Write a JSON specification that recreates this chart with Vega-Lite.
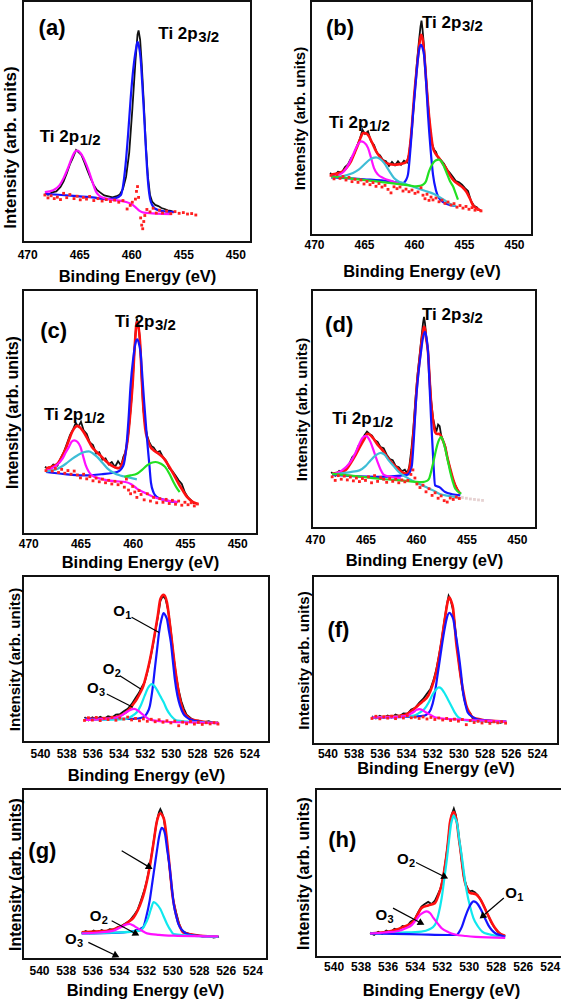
{
"$schema":"https://vega.github.io/schema/vega-lite/v6.json",
"padding":{"left":0,"top":0,"right":0,"bottom":0},
"config":{"font":"Liberation Sans","view":{"stroke":"#111111","strokeWidth":2},
"axis":{"grid":false,"domain":false,"ticks":false,"labelFont":"Liberation Sans","labelFontWeight":"bold","labelFontSize":12,"labelColor":"black","titleFont":"Liberation Sans","titleFontWeight":"bold","titleColor":"black"},
"axisX":{"titleFontSize":16.5,"labelFlush":false},"axisY":{"labels":false}},
"datasets":{
"a":[
{"s":"e","x":468.3,"y":20.2},{"s":"e","x":468.0,"y":19.6},{"s":"e","x":467.6,"y":20.6},{"s":"e","x":467.2,"y":21.0},{"s":"e","x":466.8,"y":22.8},{"s":"e","x":466.5,"y":25.2},{"s":"e","x":466.2,"y":28.5},{"s":"e","x":465.9,"y":32.2},{"s":"e","x":465.6,"y":35.0},{"s":"e","x":465.3,"y":38.2},{"s":"e","x":465.1,"y":37.4},{"s":"e","x":464.8,"y":36.2},{"s":"e","x":464.5,"y":33.0},{"s":"e","x":464.2,"y":29.6},{"s":"e","x":463.9,"y":26.4},{"s":"e","x":463.6,"y":23.6},{"s":"e","x":463.3,"y":21.6},{"s":"e","x":463.0,"y":20.6},{"s":"e","x":462.6,"y":19.3},{"s":"e","x":462.2,"y":18.9},{"s":"e","x":461.8,"y":18.5},{"s":"e","x":461.4,"y":19.0},{"s":"e","x":461.1,"y":19.7},{"s":"e","x":460.8,"y":22.0},{"s":"e","x":460.5,"y":27.0},{"s":"e","x":460.2,"y":37.0},{"s":"e","x":459.9,"y":55.0},{"s":"e","x":459.6,"y":75.0},{"s":"e","x":459.4,"y":86.0},{"s":"e","x":459.3,"y":87.8},{"s":"e","x":459.15,"y":84.0},{"s":"e","x":459.0,"y":74.0},{"s":"e","x":458.8,"y":58.0},{"s":"e","x":458.6,"y":40.0},{"s":"e","x":458.4,"y":27.0},{"s":"e","x":458.2,"y":19.5},{"s":"e","x":458.0,"y":16.8},{"s":"e","x":457.7,"y":15.4},{"s":"e","x":457.4,"y":14.9},{"s":"e","x":457.1,"y":14.1},{"s":"e","x":456.8,"y":13.7},{"s":"e","x":456.5,"y":13.1},{"s":"e","x":456.2,"y":12.9},{"s":"e","x":455.9,"y":12.4},
{"s":"b","x":468.3,"y":20.0},{"s":"b","x":467.0,"y":19.6},{"s":"b","x":465.2,"y":19.0},{"s":"b","x":463.5,"y":18.4},{"s":"b","x":462.5,"y":17.8},{"s":"b","x":461.5,"y":18.2},{"s":"b","x":461.0,"y":19.5},{"s":"b","x":460.8,"y":23.0},{"s":"b","x":460.55,"y":32.0},{"s":"b","x":460.3,"y":45.0},{"s":"b","x":460.05,"y":60.0},{"s":"b","x":459.8,"y":72.0},{"s":"b","x":459.55,"y":80.0},{"s":"b","x":459.4,"y":83.0},{"s":"b","x":459.25,"y":81.0},{"s":"b","x":459.1,"y":76.0},{"s":"b","x":458.95,"y":66.0},{"s":"b","x":458.8,"y":55.0},{"s":"b","x":458.65,"y":43.0},{"s":"b","x":458.5,"y":31.5},{"s":"b","x":458.35,"y":23.0},{"s":"b","x":458.2,"y":18.0},{"s":"b","x":457.95,"y":15.0},{"s":"b","x":457.7,"y":13.8},{"s":"b","x":457.2,"y":13.0},{"s":"b","x":456.5,"y":12.6},{"s":"b","x":455.9,"y":12.4},
{"s":"m","x":468.3,"y":20.7},{"s":"m","x":467.5,"y":21.5},{"s":"m","x":466.9,"y":23.5},{"s":"m","x":466.5,"y":26.5},{"s":"m","x":466.1,"y":30.5},{"s":"m","x":465.7,"y":35.0},{"s":"m","x":465.4,"y":37.5},{"s":"m","x":465.15,"y":37.9},{"s":"m","x":464.9,"y":37.0},{"s":"m","x":464.6,"y":35.0},{"s":"m","x":464.3,"y":32.0},{"s":"m","x":464.0,"y":28.5},{"s":"m","x":463.7,"y":24.5},{"s":"m","x":463.4,"y":21.0},{"s":"m","x":463.1,"y":19.3},{"s":"m","x":462.6,"y":18.2},{"s":"m","x":462.0,"y":17.6},{"s":"m","x":461.2,"y":17.2},{"s":"m","x":460.5,"y":16.6},{"s":"m","x":460.0,"y":15.8},{"s":"m","x":459.6,"y":14.5},{"s":"m","x":459.2,"y":12.9},{"s":"m","x":458.8,"y":12.2},{"s":"m","x":458.0,"y":11.9},{"s":"m","x":457.0,"y":11.7},{"s":"m","x":456.1,"y":11.6},
{"s":"d","x":468.3,"y":19.5},{"s":"d","x":468.0,"y":18.3},{"s":"d","x":467.7,"y":19.2},{"s":"d","x":467.4,"y":18.0},{"s":"d","x":467.1,"y":18.6},{"s":"d","x":466.8,"y":17.6},{"s":"d","x":466.5,"y":20.2},{"s":"d","x":466.2,"y":18.4},{"s":"d","x":465.9,"y":19.7},{"s":"d","x":465.5,"y":18.0},{"s":"d","x":465.2,"y":19.0},{"s":"d","x":464.9,"y":17.5},{"s":"d","x":464.6,"y":18.5},{"s":"d","x":464.3,"y":17.8},{"s":"d","x":464.0,"y":18.9},{"s":"d","x":463.6,"y":17.2},{"s":"d","x":463.2,"y":18.0},{"s":"d","x":462.8,"y":17.0},{"s":"d","x":462.4,"y":17.6},{"s":"d","x":462.0,"y":16.8},{"s":"d","x":461.6,"y":17.4},{"s":"d","x":461.2,"y":16.5},{"s":"d","x":460.8,"y":17.2},{"s":"d","x":460.4,"y":13.7},{"s":"d","x":460.1,"y":15.2},{"s":"d","x":459.9,"y":16.5},{"s":"d","x":459.6,"y":17.8},{"s":"d","x":459.5,"y":21.0},{"s":"d","x":459.4,"y":23.0},{"s":"d","x":459.3,"y":18.5},{"s":"d","x":459.1,"y":10.0},{"s":"d","x":459.0,"y":7.0},{"s":"d","x":458.9,"y":5.5},{"s":"d","x":458.8,"y":8.5},{"s":"d","x":458.7,"y":11.0},{"s":"d","x":458.5,"y":13.5},{"s":"d","x":458.2,"y":12.5},{"s":"d","x":457.9,"y":14.0},{"s":"d","x":457.6,"y":12.0},{"s":"d","x":457.3,"y":13.2},{"s":"d","x":457.0,"y":12.0},{"s":"d","x":456.6,"y":12.8},{"s":"d","x":456.2,"y":11.8},{"s":"d","x":455.8,"y":12.6},{"s":"d","x":455.4,"y":11.9},{"s":"d","x":455.0,"y":12.2},{"s":"d","x":454.6,"y":11.6},{"s":"d","x":454.2,"y":11.8},{"s":"d","x":453.8,"y":11.2}
],
"b":[
{"s":"e","x":468.4,"y":26.5},{"s":"e","x":468.0,"y":25.2},{"s":"e","x":467.6,"y":27.0},{"s":"e","x":467.2,"y":26.8},{"s":"e","x":466.9,"y":29.0},{"s":"e","x":466.6,"y":30.2},{"s":"e","x":466.3,"y":32.8},{"s":"e","x":466.0,"y":34.5},{"s":"e","x":465.7,"y":38.0},{"s":"e","x":465.4,"y":41.2},{"s":"e","x":465.15,"y":45.0},{"s":"e","x":464.9,"y":43.2},{"s":"e","x":464.6,"y":44.3},{"s":"e","x":464.3,"y":40.0},{"s":"e","x":464.0,"y":38.5},{"s":"e","x":463.7,"y":35.0},{"s":"e","x":463.4,"y":34.0},{"s":"e","x":463.1,"y":32.0},{"s":"e","x":462.8,"y":31.5},{"s":"e","x":462.5,"y":29.5},{"s":"e","x":462.2,"y":31.2},{"s":"e","x":461.9,"y":29.8},{"s":"e","x":461.6,"y":31.5},{"s":"e","x":461.3,"y":30.0},{"s":"e","x":461.0,"y":31.8},{"s":"e","x":460.7,"y":31.0},{"s":"e","x":460.5,"y":34.5},{"s":"e","x":460.3,"y":42.0},{"s":"e","x":460.1,"y":52.0},{"s":"e","x":459.9,"y":63.0},{"s":"e","x":459.7,"y":74.0},{"s":"e","x":459.5,"y":83.0},{"s":"e","x":459.35,"y":89.0},{"s":"e","x":459.25,"y":91.6},{"s":"e","x":459.15,"y":88.0},{"s":"e","x":459.0,"y":80.5},{"s":"e","x":458.8,"y":68.0},{"s":"e","x":458.6,"y":56.0},{"s":"e","x":458.4,"y":46.0},{"s":"e","x":458.2,"y":39.0},{"s":"e","x":458.0,"y":36.5},{"s":"e","x":457.8,"y":35.5},{"s":"e","x":457.6,"y":33.0},{"s":"e","x":457.3,"y":32.0},{"s":"e","x":457.0,"y":30.5},{"s":"e","x":456.7,"y":28.0},{"s":"e","x":456.4,"y":26.5},{"s":"e","x":456.1,"y":24.8},{"s":"e","x":455.8,"y":23.0},{"s":"e","x":455.5,"y":22.5},{"s":"e","x":455.2,"y":21.5},{"s":"e","x":454.9,"y":20.0},{"s":"e","x":454.6,"y":18.8},{"s":"e","x":454.3,"y":14.5},{"s":"e","x":454.0,"y":12.5},{"s":"e","x":453.6,"y":11.5},
{"s":"f","x":468.3,"y":25.8},{"s":"f","x":467.7,"y":26.3},{"s":"f","x":467.1,"y":27.2},{"s":"f","x":466.7,"y":29.0},{"s":"f","x":466.3,"y":31.5},{"s":"f","x":465.9,"y":35.5},{"s":"f","x":465.6,"y":38.6},{"s":"f","x":465.3,"y":42.0},{"s":"f","x":465.1,"y":43.6},{"s":"f","x":464.8,"y":43.5},{"s":"f","x":464.5,"y":42.2},{"s":"f","x":464.2,"y":39.5},{"s":"f","x":463.8,"y":35.8},{"s":"f","x":463.3,"y":32.8},{"s":"f","x":462.8,"y":30.8},{"s":"f","x":462.0,"y":30.0},{"s":"f","x":461.4,"y":30.3},{"s":"f","x":460.9,"y":30.8},{"s":"f","x":460.6,"y":32.5},{"s":"f","x":460.4,"y":38.0},{"s":"f","x":460.2,"y":47.0},{"s":"f","x":460.0,"y":58.5},{"s":"f","x":459.75,"y":70.0},{"s":"f","x":459.5,"y":80.0},{"s":"f","x":459.3,"y":85.6},{"s":"f","x":459.15,"y":84.0},{"s":"f","x":459.0,"y":78.5},{"s":"f","x":458.8,"y":67.0},{"s":"f","x":458.6,"y":55.7},{"s":"f","x":458.35,"y":45.0},{"s":"f","x":458.1,"y":37.2},{"s":"f","x":457.8,"y":34.5},{"s":"f","x":457.5,"y":32.9},{"s":"f","x":457.2,"y":31.0},{"s":"f","x":456.8,"y":28.6},{"s":"f","x":456.4,"y":25.5},{"s":"f","x":456.1,"y":23.6},{"s":"f","x":455.5,"y":21.5},{"s":"f","x":455.1,"y":20.2},{"s":"f","x":454.8,"y":18.7},{"s":"f","x":454.4,"y":15.5},{"s":"f","x":454.1,"y":12.7},{"s":"f","x":453.7,"y":11.3},{"s":"f","x":453.3,"y":10.4},
{"s":"b","x":468.3,"y":24.6},{"s":"b","x":465.0,"y":23.8},{"s":"b","x":462.5,"y":23.0},{"s":"b","x":461.1,"y":22.2},{"s":"b","x":460.8,"y":23.5},{"s":"b","x":460.6,"y":25.9},{"s":"b","x":460.35,"y":37.0},{"s":"b","x":460.1,"y":51.4},{"s":"b","x":459.85,"y":64.0},{"s":"b","x":459.6,"y":75.6},{"s":"b","x":459.45,"y":80.0},{"s":"b","x":459.3,"y":81.3},{"s":"b","x":459.15,"y":80.0},{"s":"b","x":459.0,"y":77.1},{"s":"b","x":458.8,"y":66.0},{"s":"b","x":458.6,"y":51.4},{"s":"b","x":458.35,"y":37.0},{"s":"b","x":458.1,"y":25.8},{"s":"b","x":457.8,"y":19.0},{"s":"b","x":457.5,"y":15.8},{"s":"b","x":457.0,"y":13.8},{"s":"b","x":456.4,"y":12.8},{"s":"b","x":455.8,"y":12.3},
{"s":"m","x":468.3,"y":24.6},{"s":"m","x":467.6,"y":25.5},{"s":"m","x":467.0,"y":27.2},{"s":"m","x":466.5,"y":30.5},{"s":"m","x":466.1,"y":34.3},{"s":"m","x":465.7,"y":38.0},{"s":"m","x":465.3,"y":40.0},{"s":"m","x":465.0,"y":39.6},{"s":"m","x":464.6,"y":37.2},{"s":"m","x":464.3,"y":33.0},{"s":"m","x":464.0,"y":28.6},{"s":"m","x":463.6,"y":25.8},{"s":"m","x":463.1,"y":24.4},{"s":"m","x":462.2,"y":23.0},{"s":"m","x":461.1,"y":21.5},
{"s":"k","x":468.3,"y":24.6},{"s":"k","x":466.8,"y":25.5},{"s":"k","x":466.1,"y":26.5},{"s":"k","x":465.5,"y":28.0},{"s":"k","x":465.0,"y":30.0},{"s":"k","x":464.4,"y":32.3},{"s":"k","x":463.8,"y":33.2},{"s":"k","x":463.4,"y":32.5},{"s":"k","x":463.0,"y":30.8},{"s":"k","x":462.5,"y":27.5},{"s":"k","x":462.0,"y":24.4},{"s":"k","x":461.5,"y":22.8},{"s":"k","x":461.1,"y":22.2},{"s":"k","x":460.0,"y":20.5},{"s":"k","x":459.0,"y":19.0},{"s":"k","x":458.0,"y":17.5},{"s":"k","x":457.0,"y":15.0},{"s":"k","x":456.5,"y":13.5},{"s":"k","x":455.8,"y":12.3},
{"s":"g","x":468.3,"y":25.0},{"s":"g","x":466.0,"y":24.0},{"s":"g","x":463.0,"y":22.5},{"s":"g","x":460.5,"y":21.2},{"s":"g","x":459.8,"y":20.8},{"s":"g","x":459.4,"y":21.0},{"s":"g","x":459.1,"y":21.5},{"s":"g","x":458.8,"y":23.0},{"s":"g","x":458.5,"y":27.2},{"s":"g","x":458.2,"y":30.0},{"s":"g","x":457.85,"y":31.8},{"s":"g","x":457.5,"y":32.2},{"s":"g","x":457.2,"y":31.0},{"s":"g","x":456.8,"y":27.2},{"s":"g","x":456.4,"y":23.0},{"s":"g","x":456.1,"y":20.8},{"s":"g","x":455.85,"y":18.0},{"s":"g","x":455.6,"y":15.1},
{"s":"d","x":468.3,"y":25.5},{"s":"d","x":468.0,"y":24.0},{"s":"d","x":467.7,"y":25.8},{"s":"d","x":467.4,"y":24.2},{"s":"d","x":467.1,"y":25.0},{"s":"d","x":466.8,"y":23.5},{"s":"d","x":466.5,"y":24.6},{"s":"d","x":466.2,"y":22.8},{"s":"d","x":465.9,"y":23.8},{"s":"d","x":465.6,"y":22.5},{"s":"d","x":465.3,"y":23.5},{"s":"d","x":465.0,"y":21.8},{"s":"d","x":464.7,"y":22.9},{"s":"d","x":464.4,"y":21.5},{"s":"d","x":464.1,"y":22.4},{"s":"d","x":463.8,"y":20.8},{"s":"d","x":463.5,"y":22.0},{"s":"d","x":463.2,"y":20.5},{"s":"d","x":462.9,"y":21.2},{"s":"d","x":462.6,"y":19.5},{"s":"d","x":462.3,"y":18.0},{"s":"d","x":462.0,"y":20.6},{"s":"d","x":461.7,"y":19.8},{"s":"d","x":461.4,"y":20.5},{"s":"d","x":461.1,"y":18.8},{"s":"d","x":460.8,"y":19.6},{"s":"d","x":460.5,"y":18.5},{"s":"d","x":460.2,"y":19.2},{"s":"d","x":459.9,"y":17.8},{"s":"d","x":459.6,"y":18.4},{"s":"d","x":459.3,"y":20.2},{"s":"d","x":459.1,"y":17.0},{"s":"d","x":458.9,"y":15.5},{"s":"d","x":458.7,"y":17.4},{"s":"d","x":458.5,"y":14.8},{"s":"d","x":458.3,"y":16.2},{"s":"d","x":458.1,"y":15.0},{"s":"d","x":457.8,"y":15.8},{"s":"d","x":457.5,"y":14.2},{"s":"d","x":457.2,"y":14.9},{"s":"d","x":456.9,"y":13.5},{"s":"d","x":456.6,"y":14.1},{"s":"d","x":456.3,"y":12.8},{"s":"d","x":456.0,"y":13.4},{"s":"d","x":455.7,"y":11.9},{"s":"d","x":455.4,"y":12.6},{"s":"d","x":455.1,"y":11.5},{"s":"d","x":454.8,"y":12.2},{"s":"d","x":454.5,"y":11.0},{"s":"d","x":454.2,"y":11.7},{"s":"d","x":453.9,"y":10.6},{"s":"d","x":453.6,"y":10.9},{"s":"d","x":453.3,"y":10.3}
],
"c":[
{"s":"e","x":468.4,"y":27.5},{"s":"e","x":468.0,"y":26.5},{"s":"e","x":467.6,"y":28.5},{"s":"e","x":467.2,"y":28.0},{"s":"e","x":466.9,"y":31.0},{"s":"e","x":466.6,"y":33.5},{"s":"e","x":466.3,"y":37.0},{"s":"e","x":466.0,"y":40.5},{"s":"e","x":465.7,"y":43.0},{"s":"e","x":465.45,"y":45.5},{"s":"e","x":465.2,"y":44.0},{"s":"e","x":464.95,"y":46.0},{"s":"e","x":464.7,"y":42.5},{"s":"e","x":464.4,"y":41.0},{"s":"e","x":464.1,"y":37.5},{"s":"e","x":463.8,"y":36.5},{"s":"e","x":463.5,"y":33.0},{"s":"e","x":463.2,"y":33.5},{"s":"e","x":462.9,"y":30.5},{"s":"e","x":462.6,"y":31.0},{"s":"e","x":462.3,"y":28.5},{"s":"e","x":462.0,"y":29.5},{"s":"e","x":461.7,"y":27.5},{"s":"e","x":461.4,"y":29.8},{"s":"e","x":461.1,"y":28.0},{"s":"e","x":460.9,"y":31.5},{"s":"e","x":460.7,"y":33.5},{"s":"e","x":460.5,"y":38.0},{"s":"e","x":460.3,"y":46.0},{"s":"e","x":460.1,"y":56.0},{"s":"e","x":459.9,"y":70.0},{"s":"e","x":459.75,"y":81.0},{"s":"e","x":459.6,"y":88.2},{"s":"e","x":459.45,"y":86.0},{"s":"e","x":459.3,"y":79.0},{"s":"e","x":459.15,"y":65.0},{"s":"e","x":459.0,"y":52.0},{"s":"e","x":458.8,"y":44.5},{"s":"e","x":458.6,"y":40.0},{"s":"e","x":458.4,"y":37.5},{"s":"e","x":458.2,"y":36.0},{"s":"e","x":458.0,"y":35.5},{"s":"e","x":457.7,"y":33.5},{"s":"e","x":457.4,"y":34.0},{"s":"e","x":457.1,"y":31.5},{"s":"e","x":456.8,"y":30.0},{"s":"e","x":456.5,"y":27.0},{"s":"e","x":456.2,"y":25.8},{"s":"e","x":455.9,"y":24.0},{"s":"e","x":455.6,"y":22.0},{"s":"e","x":455.3,"y":20.5},{"s":"e","x":455.0,"y":17.0},{"s":"e","x":454.7,"y":15.0},{"s":"e","x":454.4,"y":13.8},{"s":"e","x":454.1,"y":12.5},
{"s":"f","x":468.3,"y":26.8},{"s":"f","x":467.8,"y":27.5},{"s":"f","x":467.2,"y":28.8},{"s":"f","x":466.8,"y":31.5},{"s":"f","x":466.4,"y":35.0},{"s":"f","x":466.1,"y":38.5},{"s":"f","x":465.8,"y":41.8},{"s":"f","x":465.5,"y":43.8},{"s":"f","x":465.3,"y":44.3},{"s":"f","x":465.0,"y":43.5},{"s":"f","x":464.7,"y":41.8},{"s":"f","x":464.3,"y":38.8},{"s":"f","x":463.9,"y":35.7},{"s":"f","x":463.5,"y":33.8},{"s":"f","x":463.1,"y":32.2},{"s":"f","x":462.6,"y":30.0},{"s":"f","x":462.1,"y":28.2},{"s":"f","x":461.6,"y":27.2},{"s":"f","x":461.3,"y":27.0},{"s":"f","x":461.0,"y":29.0},{"s":"f","x":460.7,"y":33.0},{"s":"f","x":460.4,"y":41.8},{"s":"f","x":460.2,"y":51.0},{"s":"f","x":460.0,"y":62.0},{"s":"f","x":459.8,"y":77.3},{"s":"f","x":459.6,"y":86.9},{"s":"f","x":459.45,"y":85.0},{"s":"f","x":459.3,"y":79.0},{"s":"f","x":459.1,"y":61.0},{"s":"f","x":458.95,"y":50.0},{"s":"f","x":458.8,"y":43.2},{"s":"f","x":458.55,"y":38.5},{"s":"f","x":458.3,"y":35.7},{"s":"f","x":458.0,"y":34.3},{"s":"f","x":457.5,"y":32.8},{"s":"f","x":457.0,"y":30.9},{"s":"f","x":456.6,"y":28.3},{"s":"f","x":456.2,"y":25.4},{"s":"f","x":455.9,"y":23.0},{"s":"f","x":455.6,"y":20.6},{"s":"f","x":455.2,"y":17.8},{"s":"f","x":454.8,"y":15.2},{"s":"f","x":454.3,"y":13.3},{"s":"f","x":453.8,"y":12.4},
{"s":"b","x":468.3,"y":25.4},{"s":"b","x":466.5,"y":24.5},{"s":"b","x":464.7,"y":24.0},{"s":"b","x":463.0,"y":24.5},{"s":"b","x":461.5,"y":25.4},{"s":"b","x":460.9,"y":28.0},{"s":"b","x":460.6,"y":36.0},{"s":"b","x":460.4,"y":47.0},{"s":"b","x":460.2,"y":61.0},{"s":"b","x":459.95,"y":72.0},{"s":"b","x":459.7,"y":78.7},{"s":"b","x":459.55,"y":79.8},{"s":"b","x":459.4,"y":78.0},{"s":"b","x":459.25,"y":74.6},{"s":"b","x":459.05,"y":63.0},{"s":"b","x":458.9,"y":54.0},{"s":"b","x":458.65,"y":40.0},{"s":"b","x":458.4,"y":28.2},{"s":"b","x":458.25,"y":21.0},{"s":"b","x":458.0,"y":17.0},{"s":"b","x":457.7,"y":15.2},{"s":"b","x":457.0,"y":14.0},{"s":"b","x":456.4,"y":13.4},{"s":"b","x":455.7,"y":13.1},
{"s":"m","x":468.3,"y":26.1},{"s":"m","x":467.5,"y":27.5},{"s":"m","x":466.7,"y":31.0},{"s":"m","x":466.4,"y":33.5},{"s":"m","x":466.1,"y":35.7},{"s":"m","x":465.85,"y":37.8},{"s":"m","x":465.6,"y":38.4},{"s":"m","x":465.3,"y":37.8},{"s":"m","x":465.0,"y":35.7},{"s":"m","x":464.75,"y":32.0},{"s":"m","x":464.5,"y":28.2},{"s":"m","x":464.2,"y":25.5},{"s":"m","x":463.9,"y":24.0},{"s":"m","x":463.2,"y":22.8},{"s":"m","x":462.4,"y":22.0},{"s":"m","x":461.5,"y":21.6},{"s":"m","x":460.7,"y":21.3},{"s":"m","x":460.1,"y":20.3},{"s":"m","x":459.6,"y":18.6},{"s":"m","x":458.8,"y":16.8},{"s":"m","x":458.0,"y":15.2},{"s":"m","x":456.8,"y":13.8},{"s":"m","x":455.7,"y":13.1},
{"s":"k","x":468.3,"y":25.6},{"s":"k","x":467.3,"y":26.5},{"s":"k","x":466.4,"y":28.8},{"s":"k","x":465.8,"y":30.8},{"s":"k","x":465.3,"y":32.2},{"s":"k","x":464.7,"y":33.5},{"s":"k","x":464.2,"y":33.9},{"s":"k","x":463.8,"y":33.0},{"s":"k","x":463.4,"y":31.6},{"s":"k","x":462.9,"y":29.2},{"s":"k","x":462.4,"y":26.8},{"s":"k","x":461.8,"y":25.0},{"s":"k","x":461.2,"y":24.0},{"s":"k","x":460.4,"y":23.2},{"s":"k","x":459.6,"y":22.4},
{"s":"g","x":460.8,"y":23.4},{"s":"g","x":460.2,"y":24.0},{"s":"g","x":459.6,"y":24.7},{"s":"g","x":459.1,"y":26.3},{"s":"g","x":458.6,"y":28.2},{"s":"g","x":458.2,"y":29.2},{"s":"g","x":457.8,"y":29.5},{"s":"g","x":457.3,"y":28.8},{"s":"g","x":456.9,"y":27.5},{"s":"g","x":456.5,"y":24.8},{"s":"g","x":456.1,"y":21.3},{"s":"g","x":455.8,"y":19.0},{"s":"g","x":455.5,"y":17.2},
{"s":"d","x":468.3,"y":26.0},{"s":"d","x":468.0,"y":27.2},{"s":"d","x":467.7,"y":25.8},{"s":"d","x":467.4,"y":26.9},{"s":"d","x":467.1,"y":25.2},{"s":"d","x":466.8,"y":26.5},{"s":"d","x":466.5,"y":24.9},{"s":"d","x":466.2,"y":26.0},{"s":"d","x":465.9,"y":24.5},{"s":"d","x":465.6,"y":25.8},{"s":"d","x":465.3,"y":24.2},{"s":"d","x":465.0,"y":23.0},{"s":"d","x":464.7,"y":24.5},{"s":"d","x":464.4,"y":22.6},{"s":"d","x":464.1,"y":23.5},{"s":"d","x":463.8,"y":21.8},{"s":"d","x":463.5,"y":22.9},{"s":"d","x":463.2,"y":21.4},{"s":"d","x":462.9,"y":22.5},{"s":"d","x":462.6,"y":21.0},{"s":"d","x":462.3,"y":22.0},{"s":"d","x":462.0,"y":20.5},{"s":"d","x":461.7,"y":21.6},{"s":"d","x":461.4,"y":20.2},{"s":"d","x":461.1,"y":21.0},{"s":"d","x":460.8,"y":19.2},{"s":"d","x":460.6,"y":22.5},{"s":"d","x":460.4,"y":18.0},{"s":"d","x":460.2,"y":16.5},{"s":"d","x":460.0,"y":19.5},{"s":"d","x":459.8,"y":17.2},{"s":"d","x":459.6,"y":15.0},{"s":"d","x":459.4,"y":17.8},{"s":"d","x":459.2,"y":16.2},{"s":"d","x":458.9,"y":14.0},{"s":"d","x":458.6,"y":16.5},{"s":"d","x":458.3,"y":13.5},{"s":"d","x":458.0,"y":15.0},{"s":"d","x":457.7,"y":12.8},{"s":"d","x":457.4,"y":14.5},{"s":"d","x":457.1,"y":13.0},{"s":"d","x":456.8,"y":14.2},{"s":"d","x":456.5,"y":12.5},{"s":"d","x":456.2,"y":13.8},{"s":"d","x":455.9,"y":12.2},{"s":"d","x":455.6,"y":13.5},{"s":"d","x":455.3,"y":11.8},{"s":"d","x":455.0,"y":13.0},{"s":"d","x":454.7,"y":12.0},{"s":"d","x":454.4,"y":12.8},{"s":"d","x":454.1,"y":11.5},{"s":"d","x":453.8,"y":12.3}
],
"d":[
{"s":"e","x":468.4,"y":23.5},{"s":"e","x":468.0,"y":22.0},{"s":"e","x":467.6,"y":24.0},{"s":"e","x":467.2,"y":23.5},{"s":"e","x":466.9,"y":25.5},{"s":"e","x":466.6,"y":27.0},{"s":"e","x":466.3,"y":29.8},{"s":"e","x":466.0,"y":31.0},{"s":"e","x":465.7,"y":34.5},{"s":"e","x":465.4,"y":36.0},{"s":"e","x":465.1,"y":39.0},{"s":"e","x":464.85,"y":40.5},{"s":"e","x":464.6,"y":39.5},{"s":"e","x":464.35,"y":38.8},{"s":"e","x":464.1,"y":37.0},{"s":"e","x":463.8,"y":36.2},{"s":"e","x":463.5,"y":34.0},{"s":"e","x":463.2,"y":33.5},{"s":"e","x":462.9,"y":30.8},{"s":"e","x":462.6,"y":29.0},{"s":"e","x":462.3,"y":28.5},{"s":"e","x":462.0,"y":26.0},{"s":"e","x":461.7,"y":25.5},{"s":"e","x":461.4,"y":23.8},{"s":"e","x":461.1,"y":24.5},{"s":"e","x":460.85,"y":23.0},{"s":"e","x":460.65,"y":26.0},{"s":"e","x":460.45,"y":33.0},{"s":"e","x":460.25,"y":42.0},{"s":"e","x":460.05,"y":54.0},{"s":"e","x":459.85,"y":64.0},{"s":"e","x":459.65,"y":72.0},{"s":"e","x":459.45,"y":80.0},{"s":"e","x":459.3,"y":86.0},{"s":"e","x":459.2,"y":88.7},{"s":"e","x":459.1,"y":86.0},{"s":"e","x":458.95,"y":79.0},{"s":"e","x":458.8,"y":74.0},{"s":"e","x":458.65,"y":64.0},{"s":"e","x":458.5,"y":54.0},{"s":"e","x":458.3,"y":46.0},{"s":"e","x":458.1,"y":42.0},{"s":"e","x":457.95,"y":41.0},{"s":"e","x":457.8,"y":43.5},{"s":"e","x":457.65,"y":42.8},{"s":"e","x":457.5,"y":39.0},{"s":"e","x":457.3,"y":36.5},{"s":"e","x":457.1,"y":34.5},{"s":"e","x":456.9,"y":30.0},{"s":"e","x":456.7,"y":26.5},{"s":"e","x":456.5,"y":23.0},{"s":"e","x":456.3,"y":20.0},{"s":"e","x":456.1,"y":18.0},{"s":"e","x":455.85,"y":15.8},{"s":"e","x":455.6,"y":14.5},
{"s":"f","x":468.3,"y":22.8},{"s":"f","x":467.6,"y":23.4},{"s":"f","x":467.0,"y":24.2},{"s":"f","x":466.5,"y":27.0},{"s":"f","x":466.0,"y":30.5},{"s":"f","x":465.5,"y":34.5},{"s":"f","x":465.1,"y":37.5},{"s":"f","x":464.8,"y":39.6},{"s":"f","x":464.5,"y":39.0},{"s":"f","x":464.2,"y":37.5},{"s":"f","x":463.8,"y":35.0},{"s":"f","x":463.3,"y":32.6},{"s":"f","x":462.8,"y":29.5},{"s":"f","x":462.3,"y":27.0},{"s":"f","x":461.8,"y":25.0},{"s":"f","x":461.4,"y":23.5},{"s":"f","x":460.9,"y":22.8},{"s":"f","x":460.65,"y":25.0},{"s":"f","x":460.4,"y":31.9},{"s":"f","x":460.15,"y":45.0},{"s":"f","x":459.9,"y":60.0},{"s":"f","x":459.6,"y":72.0},{"s":"f","x":459.45,"y":78.0},{"s":"f","x":459.3,"y":82.5},{"s":"f","x":459.2,"y":84.5},{"s":"f","x":459.1,"y":83.5},{"s":"f","x":459.0,"y":80.0},{"s":"f","x":458.8,"y":73.9},{"s":"f","x":458.65,"y":63.0},{"s":"f","x":458.5,"y":52.9},{"s":"f","x":458.3,"y":45.0},{"s":"f","x":458.1,"y":40.3},{"s":"f","x":457.9,"y":39.5},{"s":"f","x":457.7,"y":39.6},{"s":"f","x":457.4,"y":37.5},{"s":"f","x":457.1,"y":34.0},{"s":"f","x":456.85,"y":29.0},{"s":"f","x":456.6,"y":24.9},{"s":"f","x":456.35,"y":21.0},{"s":"f","x":456.1,"y":17.9},{"s":"f","x":455.8,"y":15.5},{"s":"f","x":455.6,"y":14.4},
{"s":"b","x":468.3,"y":22.3},{"s":"b","x":464.0,"y":21.5},{"s":"b","x":461.5,"y":22.0},{"s":"b","x":460.9,"y":22.3},{"s":"b","x":460.7,"y":22.8},{"s":"b","x":460.55,"y":24.0},{"s":"b","x":460.4,"y":26.3},{"s":"b","x":460.2,"y":38.0},{"s":"b","x":460.0,"y":52.9},{"s":"b","x":459.75,"y":65.0},{"s":"b","x":459.5,"y":73.9},{"s":"b","x":459.3,"y":80.0},{"s":"b","x":459.1,"y":82.4},{"s":"b","x":458.95,"y":80.0},{"s":"b","x":458.8,"y":73.9},{"s":"b","x":458.65,"y":60.0},{"s":"b","x":458.5,"y":45.9},{"s":"b","x":458.3,"y":30.0},{"s":"b","x":458.1,"y":17.9},{"s":"b","x":457.9,"y":17.5},{"s":"b","x":457.7,"y":17.2},{"s":"b","x":457.1,"y":15.1},{"s":"b","x":456.4,"y":14.2},{"s":"b","x":455.6,"y":13.7},
{"s":"m","x":468.3,"y":22.5},{"s":"m","x":467.4,"y":24.0},{"s":"m","x":466.5,"y":27.7},{"s":"m","x":466.0,"y":31.5},{"s":"m","x":465.6,"y":35.4},{"s":"m","x":465.3,"y":37.8},{"s":"m","x":465.0,"y":38.7},{"s":"m","x":464.75,"y":38.0},{"s":"m","x":464.5,"y":36.1},{"s":"m","x":464.15,"y":32.0},{"s":"m","x":463.8,"y":27.7},{"s":"m","x":463.5,"y":24.5},{"s":"m","x":463.2,"y":22.4},{"s":"m","x":462.5,"y":21.5},{"s":"m","x":461.5,"y":21.0},
{"s":"k","x":468.3,"y":22.5},{"s":"k","x":466.5,"y":23.5},{"s":"k","x":465.6,"y":24.2},{"s":"k","x":465.0,"y":26.0},{"s":"k","x":464.5,"y":28.4},{"s":"k","x":464.0,"y":30.5},{"s":"k","x":463.5,"y":31.6},{"s":"k","x":463.1,"y":30.8},{"s":"k","x":462.7,"y":28.4},{"s":"k","x":462.2,"y":26.0},{"s":"k","x":461.7,"y":23.5},{"s":"k","x":461.0,"y":21.5},{"s":"k","x":460.4,"y":20.0},{"s":"k","x":459.7,"y":18.6},{"s":"k","x":459.0,"y":17.2},{"s":"k","x":458.3,"y":15.8},{"s":"k","x":457.7,"y":14.4},{"s":"k","x":456.6,"y":13.4},{"s":"k","x":455.6,"y":12.6},
{"s":"g","x":468.3,"y":22.8},{"s":"g","x":466.0,"y":21.8},{"s":"g","x":463.7,"y":20.7},{"s":"g","x":461.5,"y":20.0},{"s":"g","x":459.4,"y":19.3},{"s":"g","x":458.9,"y":19.8},{"s":"g","x":458.7,"y":20.7},{"s":"g","x":458.45,"y":24.5},{"s":"g","x":458.2,"y":29.1},{"s":"g","x":458.0,"y":33.0},{"s":"g","x":457.8,"y":36.1},{"s":"g","x":457.5,"y":38.2},{"s":"g","x":457.3,"y":36.5},{"s":"g","x":457.1,"y":33.3},{"s":"g","x":456.85,"y":28.5},{"s":"g","x":456.6,"y":23.5},{"s":"g","x":456.35,"y":19.5},{"s":"g","x":456.1,"y":16.5},{"s":"g","x":455.5,"y":14.4},
{"s":"d","x":468.3,"y":21.5},{"s":"d","x":468.0,"y":20.0},{"s":"d","x":467.7,"y":22.0},{"s":"d","x":467.4,"y":20.5},{"s":"d","x":467.1,"y":21.8},{"s":"d","x":466.8,"y":20.2},{"s":"d","x":466.5,"y":21.4},{"s":"d","x":466.2,"y":19.8},{"s":"d","x":465.9,"y":21.0},{"s":"d","x":465.6,"y":19.5},{"s":"d","x":465.3,"y":20.8},{"s":"d","x":465.0,"y":20.0},{"s":"d","x":464.7,"y":21.5},{"s":"d","x":464.4,"y":19.0},{"s":"d","x":464.1,"y":22.0},{"s":"d","x":463.8,"y":19.6},{"s":"d","x":463.5,"y":21.2},{"s":"d","x":463.2,"y":20.5},{"s":"d","x":462.9,"y":19.2},{"s":"d","x":462.6,"y":20.8},{"s":"d","x":462.3,"y":19.6},{"s":"d","x":462.0,"y":20.5},{"s":"d","x":461.7,"y":19.0},{"s":"d","x":461.4,"y":20.2},{"s":"d","x":461.1,"y":19.4},{"s":"d","x":460.8,"y":20.0},{"s":"d","x":460.5,"y":22.5},{"s":"d","x":460.3,"y":24.4},{"s":"d","x":460.1,"y":21.0},{"s":"d","x":459.9,"y":18.5},{"s":"d","x":459.6,"y":17.0},{"s":"d","x":459.3,"y":18.0},{"s":"d","x":459.0,"y":15.2},{"s":"d","x":458.7,"y":16.5},{"s":"d","x":458.4,"y":13.7},{"s":"d","x":458.1,"y":14.8},{"s":"d","x":457.8,"y":12.5},{"s":"d","x":457.5,"y":13.5},{"s":"d","x":457.2,"y":11.5},{"s":"d","x":456.9,"y":10.9},{"s":"d","x":456.6,"y":12.6},{"s":"d","x":456.3,"y":12.0},{"s":"d","x":456.0,"y":13.0},{"s":"d","x":455.7,"y":12.4},
{"s":"h","x":455.4,"y":12.8},{"s":"h","x":455.0,"y":12.5},{"s":"h","x":454.6,"y":12.2},{"s":"h","x":454.2,"y":12.0},{"s":"h","x":453.8,"y":11.8},{"s":"h","x":453.4,"y":11.6}
],
"e":[
{"s":"e","x":536.6,"y":15.0},{"s":"e","x":536.3,"y":13.0},{"s":"e","x":536.0,"y":14.8},{"s":"e","x":535.7,"y":13.5},{"s":"e","x":535.4,"y":15.2},{"s":"e","x":535.1,"y":14.0},{"s":"e","x":534.8,"y":15.5},{"s":"e","x":534.5,"y":14.8},{"s":"e","x":534.2,"y":16.5},{"s":"e","x":533.9,"y":16.8},{"s":"e","x":533.6,"y":18.5},{"s":"e","x":533.3,"y":20.0},{"s":"e","x":533.0,"y":22.8},{"s":"e","x":532.7,"y":26.5},{"s":"e","x":532.45,"y":29.5},{"s":"e","x":532.2,"y":33.5},{"s":"e","x":532.0,"y":36.0},{"s":"e","x":531.8,"y":42.0},{"s":"e","x":531.6,"y":49.0},{"s":"e","x":531.4,"y":57.0},{"s":"e","x":531.2,"y":66.0},{"s":"e","x":531.0,"y":75.0},{"s":"e","x":530.8,"y":85.0},{"s":"e","x":530.6,"y":88.0},{"s":"e","x":530.4,"y":86.0},{"s":"e","x":530.2,"y":79.0},{"s":"e","x":530.0,"y":67.0},{"s":"e","x":529.8,"y":52.0},{"s":"e","x":529.6,"y":40.0},{"s":"e","x":529.4,"y":31.0},{"s":"e","x":529.2,"y":24.5},{"s":"e","x":529.0,"y":20.0},{"s":"e","x":528.8,"y":16.5},{"s":"e","x":528.5,"y":14.5},{"s":"e","x":528.2,"y":13.0},{"s":"e","x":527.9,"y":12.8},{"s":"e","x":527.5,"y":11.8},{"s":"e","x":527.1,"y":12.6},{"s":"e","x":526.7,"y":11.2},{"s":"e","x":526.4,"y":11.8},
{"s":"f","x":536.55,"y":13.9},{"s":"f","x":535.5,"y":14.2},{"s":"f","x":534.6,"y":14.5},{"s":"f","x":533.9,"y":15.9},{"s":"f","x":533.5,"y":17.5},{"s":"f","x":533.2,"y":19.5},{"s":"f","x":532.9,"y":22.5},{"s":"f","x":532.6,"y":25.9},{"s":"f","x":532.35,"y":29.5},{"s":"f","x":532.1,"y":33.9},{"s":"f","x":531.9,"y":39.5},{"s":"f","x":531.7,"y":45.9},{"s":"f","x":531.5,"y":53.5},{"s":"f","x":531.3,"y":62.0},{"s":"f","x":531.15,"y":69.0},{"s":"f","x":531.0,"y":76.1},{"s":"f","x":530.8,"y":86.1},{"s":"f","x":530.55,"y":88.6},{"s":"f","x":530.3,"y":84.1},{"s":"f","x":530.15,"y":76.0},{"s":"f","x":530.0,"y":66.0},{"s":"f","x":529.85,"y":56.0},{"s":"f","x":529.7,"y":45.9},{"s":"f","x":529.55,"y":37.5},{"s":"f","x":529.4,"y":29.9},{"s":"f","x":529.2,"y":22.5},{"s":"f","x":529.0,"y":17.9},{"s":"f","x":528.5,"y":13.9},{"s":"f","x":527.5,"y":12.2},{"s":"f","x":526.35,"y":11.4},
{"s":"b","x":536.55,"y":13.9},{"s":"b","x":532.9,"y":13.9},{"s":"b","x":532.1,"y":14.9},{"s":"b","x":531.85,"y":17.0},{"s":"b","x":531.6,"y":21.9},{"s":"b","x":531.4,"y":32.0},{"s":"b","x":531.2,"y":45.9},{"s":"b","x":531.05,"y":56.0},{"s":"b","x":530.9,"y":66.0},{"s":"b","x":530.7,"y":74.5},{"s":"b","x":530.55,"y":77.7},{"s":"b","x":530.4,"y":76.0},{"s":"b","x":530.3,"y":74.1},{"s":"b","x":530.15,"y":67.0},{"s":"b","x":530.0,"y":60.0},{"s":"b","x":529.85,"y":49.0},{"s":"b","x":529.7,"y":38.0},{"s":"b","x":529.5,"y":28.0},{"s":"b","x":529.3,"y":21.9},{"s":"b","x":529.05,"y":17.0},{"s":"b","x":528.8,"y":14.9},{"s":"b","x":528.3,"y":13.0},{"s":"b","x":527.75,"y":12.2},{"s":"b","x":526.35,"y":11.4},
{"s":"c","x":536.55,"y":13.3},{"s":"c","x":534.5,"y":13.5},{"s":"c","x":533.4,"y":13.9},{"s":"c","x":533.0,"y":15.5},{"s":"c","x":532.6,"y":17.9},{"s":"c","x":532.3,"y":22.0},{"s":"c","x":532.0,"y":27.9},{"s":"c","x":531.75,"y":32.5},{"s":"c","x":531.45,"y":34.9},{"s":"c","x":531.1,"y":31.9},{"s":"c","x":530.8,"y":27.5},{"s":"c","x":530.55,"y":23.9},{"s":"c","x":530.3,"y":19.5},{"s":"c","x":530.0,"y":15.9},{"s":"c","x":529.5,"y":12.9},{"s":"c","x":528.0,"y":12.0},{"s":"c","x":526.35,"y":11.4},
{"s":"m","x":536.55,"y":13.3},{"s":"m","x":535.2,"y":13.8},{"s":"m","x":534.1,"y":14.9},{"s":"m","x":533.7,"y":16.3},{"s":"m","x":533.4,"y":17.9},{"s":"m","x":533.1,"y":19.3},{"s":"m","x":532.8,"y":19.9},{"s":"m","x":532.5,"y":18.8},{"s":"m","x":532.2,"y":16.9},{"s":"m","x":531.9,"y":15.0},{"s":"m","x":531.6,"y":13.5},{"s":"m","x":530.3,"y":12.2},{"s":"m","x":528.5,"y":11.8},{"s":"m","x":526.35,"y":11.4},
{"s":"d","x":536.6,"y":13.0},{"s":"d","x":536.3,"y":14.6},{"s":"d","x":536.0,"y":13.2},{"s":"d","x":535.7,"y":14.8},{"s":"d","x":535.4,"y":12.9},{"s":"d","x":535.1,"y":14.3},{"s":"d","x":534.8,"y":13.5},{"s":"d","x":534.5,"y":14.9},{"s":"d","x":534.2,"y":13.1},{"s":"d","x":533.9,"y":14.4},{"s":"d","x":533.6,"y":13.8},{"s":"d","x":533.3,"y":15.0},{"s":"d","x":533.0,"y":13.3},{"s":"d","x":532.7,"y":14.2},{"s":"d","x":532.4,"y":12.8},{"s":"d","x":532.1,"y":13.9},{"s":"d","x":531.8,"y":12.5},{"s":"d","x":531.5,"y":13.7},{"s":"d","x":531.2,"y":12.2},{"s":"d","x":530.9,"y":13.4},{"s":"d","x":530.6,"y":11.9},{"s":"d","x":530.3,"y":12.8},{"s":"d","x":530.0,"y":11.5},{"s":"d","x":529.7,"y":12.6},{"s":"d","x":529.4,"y":9.8},{"s":"d","x":529.1,"y":12.0},{"s":"d","x":528.8,"y":11.0},{"s":"d","x":528.5,"y":12.4},{"s":"d","x":528.2,"y":10.8},{"s":"d","x":527.9,"y":11.8},{"s":"d","x":527.6,"y":10.6},{"s":"d","x":527.3,"y":11.6},{"s":"d","x":527.0,"y":10.9},{"s":"d","x":526.7,"y":11.7},{"s":"d","x":526.4,"y":10.8}
],
"f":[
{"s":"e","x":536.6,"y":16.5},{"s":"e","x":536.3,"y":15.2},{"s":"e","x":536.0,"y":16.8},{"s":"e","x":535.7,"y":15.5},{"s":"e","x":535.4,"y":17.0},{"s":"e","x":535.1,"y":15.8},{"s":"e","x":534.8,"y":17.5},{"s":"e","x":534.5,"y":16.5},{"s":"e","x":534.2,"y":18.2},{"s":"e","x":533.9,"y":18.0},{"s":"e","x":533.6,"y":20.5},{"s":"e","x":533.3,"y":21.5},{"s":"e","x":533.0,"y":24.5},{"s":"e","x":532.7,"y":26.8},{"s":"e","x":532.4,"y":30.0},{"s":"e","x":532.15,"y":32.5},{"s":"e","x":531.9,"y":38.0},{"s":"e","x":531.7,"y":44.0},{"s":"e","x":531.5,"y":52.0},{"s":"e","x":531.3,"y":61.0},{"s":"e","x":531.1,"y":72.0},{"s":"e","x":530.9,"y":82.0},{"s":"e","x":530.75,"y":88.3},{"s":"e","x":530.6,"y":86.0},{"s":"e","x":530.45,"y":81.0},{"s":"e","x":530.3,"y":73.0},{"s":"e","x":530.1,"y":58.0},{"s":"e","x":529.9,"y":44.0},{"s":"e","x":529.7,"y":33.0},{"s":"e","x":529.5,"y":25.0},{"s":"e","x":529.3,"y":20.0},{"s":"e","x":529.1,"y":18.5},{"s":"e","x":528.9,"y":15.0},{"s":"e","x":528.6,"y":14.8},{"s":"e","x":528.3,"y":13.5},{"s":"e","x":528.0,"y":14.2},{"s":"e","x":527.6,"y":12.8},{"s":"e","x":527.2,"y":13.6},{"s":"e","x":526.8,"y":12.6},{"s":"e","x":526.4,"y":13.4},
{"s":"f","x":536.55,"y":15.9},{"s":"f","x":535.3,"y":16.4},{"s":"f","x":534.1,"y":17.3},{"s":"f","x":533.6,"y":19.5},{"s":"f","x":533.1,"y":22.8},{"s":"f","x":532.7,"y":25.5},{"s":"f","x":532.3,"y":28.8},{"s":"f","x":532.0,"y":34.5},{"s":"f","x":531.7,"y":42.7},{"s":"f","x":531.5,"y":51.0},{"s":"f","x":531.3,"y":60.5},{"s":"f","x":531.15,"y":68.5},{"s":"f","x":531.0,"y":76.4},{"s":"f","x":530.8,"y":85.3},{"s":"f","x":530.7,"y":87.3},{"s":"f","x":530.55,"y":85.0},{"s":"f","x":530.4,"y":80.4},{"s":"f","x":530.3,"y":72.0},{"s":"f","x":530.2,"y":62.5},{"s":"f","x":530.0,"y":50.0},{"s":"f","x":529.8,"y":38.7},{"s":"f","x":529.6,"y":30.0},{"s":"f","x":529.4,"y":22.8},{"s":"f","x":529.15,"y":18.5},{"s":"f","x":528.9,"y":15.9},{"s":"f","x":528.3,"y":14.6},{"s":"f","x":527.75,"y":13.9},{"s":"f","x":526.35,"y":13.3},
{"s":"b","x":536.55,"y":15.9},{"s":"b","x":534.0,"y":16.2},{"s":"b","x":532.6,"y":16.9},{"s":"b","x":532.35,"y":18.0},{"s":"b","x":532.1,"y":20.8},{"s":"b","x":531.85,"y":28.0},{"s":"b","x":531.6,"y":40.7},{"s":"b","x":531.35,"y":54.0},{"s":"b","x":531.1,"y":66.5},{"s":"b","x":530.9,"y":74.5},{"s":"b","x":530.7,"y":78.0},{"s":"b","x":530.55,"y":77.0},{"s":"b","x":530.4,"y":74.4},{"s":"b","x":530.2,"y":65.0},{"s":"b","x":530.0,"y":54.6},{"s":"b","x":529.8,"y":42.0},{"s":"b","x":529.65,"y":30.8},{"s":"b","x":529.45,"y":23.0},{"s":"b","x":529.3,"y":18.9},{"s":"b","x":528.9,"y":16.0},{"s":"b","x":528.5,"y":14.5},{"s":"b","x":527.5,"y":13.8},{"s":"b","x":526.35,"y":13.3},
{"s":"c","x":536.55,"y":15.9},{"s":"c","x":534.5,"y":16.3},{"s":"c","x":533.4,"y":16.9},{"s":"c","x":533.0,"y":18.5},{"s":"c","x":532.6,"y":20.8},{"s":"c","x":532.25,"y":25.0},{"s":"c","x":531.95,"y":29.8},{"s":"c","x":531.7,"y":32.5},{"s":"c","x":531.5,"y":33.7},{"s":"c","x":531.3,"y":33.0},{"s":"c","x":531.1,"y":30.8},{"s":"c","x":530.8,"y":26.5},{"s":"c","x":530.55,"y":22.8},{"s":"c","x":530.3,"y":19.0},{"s":"c","x":530.0,"y":15.9},{"s":"c","x":529.3,"y":13.9},{"s":"c","x":526.35,"y":13.3},
{"s":"m","x":536.55,"y":15.9},{"s":"m","x":534.5,"y":16.2},{"s":"m","x":533.9,"y":16.9},{"s":"m","x":533.6,"y":18.2},{"s":"m","x":533.4,"y":19.2},{"s":"m","x":533.2,"y":20.3},{"s":"m","x":533.0,"y":20.8},{"s":"m","x":532.75,"y":20.2},{"s":"m","x":532.5,"y":18.9},{"s":"m","x":532.1,"y":17.2},{"s":"m","x":531.8,"y":15.9},{"s":"m","x":531.0,"y":15.0},{"s":"m","x":529.8,"y":14.5},{"s":"m","x":528.0,"y":13.9},{"s":"m","x":526.35,"y":13.3},
{"s":"d","x":536.6,"y":15.2},{"s":"d","x":536.3,"y":16.5},{"s":"d","x":536.0,"y":15.0},{"s":"d","x":535.7,"y":16.2},{"s":"d","x":535.4,"y":15.4},{"s":"d","x":535.1,"y":16.6},{"s":"d","x":534.8,"y":15.1},{"s":"d","x":534.5,"y":16.3},{"s":"d","x":534.2,"y":15.5},{"s":"d","x":533.9,"y":16.8},{"s":"d","x":533.6,"y":15.6},{"s":"d","x":533.3,"y":16.0},{"s":"d","x":533.0,"y":15.2},{"s":"d","x":532.7,"y":16.1},{"s":"d","x":532.4,"y":14.9},{"s":"d","x":532.1,"y":15.8},{"s":"d","x":531.8,"y":14.6},{"s":"d","x":531.5,"y":15.5},{"s":"d","x":531.2,"y":14.3},{"s":"d","x":530.9,"y":15.2},{"s":"d","x":530.6,"y":14.0},{"s":"d","x":530.3,"y":14.8},{"s":"d","x":530.0,"y":13.6},{"s":"d","x":529.7,"y":14.6},{"s":"d","x":529.4,"y":11.5},{"s":"d","x":529.1,"y":13.9},{"s":"d","x":528.8,"y":12.8},{"s":"d","x":528.5,"y":13.5},{"s":"d","x":528.2,"y":12.5},{"s":"d","x":527.9,"y":13.4},{"s":"d","x":527.6,"y":12.3},{"s":"d","x":527.3,"y":13.2},{"s":"d","x":527.0,"y":12.6},{"s":"d","x":526.7,"y":13.3},{"s":"d","x":526.4,"y":12.4}
],
"g":[
{"s":"e","x":536.8,"y":15.0},{"s":"e","x":536.5,"y":16.5},{"s":"e","x":536.2,"y":15.2},{"s":"e","x":535.9,"y":16.8},{"s":"e","x":535.6,"y":15.6},{"s":"e","x":535.3,"y":17.0},{"s":"e","x":535.0,"y":16.0},{"s":"e","x":534.7,"y":17.5},{"s":"e","x":534.4,"y":17.2},{"s":"e","x":534.1,"y":18.8},{"s":"e","x":533.8,"y":19.5},{"s":"e","x":533.5,"y":21.0},{"s":"e","x":533.2,"y":22.5},{"s":"e","x":532.9,"y":25.5},{"s":"e","x":532.6,"y":29.0},{"s":"e","x":532.35,"y":34.5},{"s":"e","x":532.1,"y":40.5},{"s":"e","x":531.9,"y":46.5},{"s":"e","x":531.7,"y":54.5},{"s":"e","x":531.5,"y":64.0},{"s":"e","x":531.3,"y":74.5},{"s":"e","x":531.15,"y":81.5},{"s":"e","x":531.0,"y":86.5},{"s":"e","x":530.9,"y":88.2},{"s":"e","x":530.8,"y":86.5},{"s":"e","x":530.65,"y":83.0},{"s":"e","x":530.5,"y":75.0},{"s":"e","x":530.35,"y":64.0},{"s":"e","x":530.2,"y":53.0},{"s":"e","x":530.05,"y":41.0},{"s":"e","x":529.9,"y":33.5},{"s":"e","x":529.7,"y":27.0},{"s":"e","x":529.5,"y":21.0},{"s":"e","x":529.3,"y":17.0},{"s":"e","x":529.1,"y":15.8},{"s":"e","x":528.8,"y":15.0},{"s":"e","x":528.5,"y":14.2},{"s":"e","x":528.1,"y":13.8},{"s":"e","x":527.7,"y":13.2},{"s":"e","x":527.3,"y":13.6},{"s":"e","x":526.9,"y":12.6},{"s":"e","x":526.5,"y":13.2},
{"s":"f","x":536.8,"y":15.7},{"s":"f","x":535.8,"y":16.1},{"s":"f","x":534.7,"y":16.7},{"s":"f","x":534.2,"y":18.0},{"s":"f","x":533.7,"y":19.6},{"s":"f","x":533.3,"y":21.8},{"s":"f","x":532.9,"y":24.5},{"s":"f","x":532.6,"y":28.5},{"s":"f","x":532.3,"y":34.3},{"s":"f","x":532.1,"y":39.5},{"s":"f","x":531.9,"y":46.1},{"s":"f","x":531.7,"y":54.0},{"s":"f","x":531.5,"y":63.7},{"s":"f","x":531.35,"y":71.5},{"s":"f","x":531.2,"y":79.4},{"s":"f","x":531.05,"y":84.0},{"s":"f","x":530.9,"y":85.7},{"s":"f","x":530.75,"y":84.5},{"s":"f","x":530.6,"y":81.4},{"s":"f","x":530.45,"y":73.0},{"s":"f","x":530.3,"y":61.8},{"s":"f","x":530.15,"y":50.0},{"s":"f","x":530.0,"y":38.2},{"s":"f","x":529.8,"y":29.0},{"s":"f","x":529.6,"y":22.5},{"s":"f","x":529.4,"y":18.5},{"s":"f","x":529.2,"y":15.7},{"s":"f","x":528.6,"y":14.5},{"s":"f","x":527.9,"y":13.7},{"s":"f","x":526.55,"y":13.1},
{"s":"b","x":536.8,"y":15.0},{"s":"b","x":534.0,"y":15.5},{"s":"b","x":532.9,"y":16.5},{"s":"b","x":532.2,"y":18.6},{"s":"b","x":531.95,"y":25.0},{"s":"b","x":531.7,"y":34.3},{"s":"b","x":531.5,"y":45.0},{"s":"b","x":531.3,"y":55.9},{"s":"b","x":531.15,"y":64.0},{"s":"b","x":531.0,"y":71.6},{"s":"b","x":530.8,"y":77.1},{"s":"b","x":530.65,"y":76.0},{"s":"b","x":530.55,"y":73.5},{"s":"b","x":530.4,"y":65.0},{"s":"b","x":530.2,"y":53.9},{"s":"b","x":530.05,"y":43.0},{"s":"b","x":529.9,"y":32.4},{"s":"b","x":529.7,"y":25.0},{"s":"b","x":529.55,"y":20.6},{"s":"b","x":529.2,"y":16.5},{"s":"b","x":528.9,"y":14.7},{"s":"b","x":528.0,"y":13.6},{"s":"b","x":526.55,"y":13.1},
{"s":"c","x":536.8,"y":15.0},{"s":"c","x":534.0,"y":15.6},{"s":"c","x":532.4,"y":16.7},{"s":"c","x":532.1,"y":19.5},{"s":"c","x":531.8,"y":24.5},{"s":"c","x":531.6,"y":29.5},{"s":"c","x":531.4,"y":33.5},{"s":"c","x":531.2,"y":32.5},{"s":"c","x":530.9,"y":29.4},{"s":"c","x":530.65,"y":25.0},{"s":"c","x":530.4,"y":20.6},{"s":"c","x":530.1,"y":16.5},{"s":"c","x":529.9,"y":14.7},{"s":"c","x":528.0,"y":13.5},{"s":"c","x":526.55,"y":13.1},
{"s":"m","x":536.8,"y":15.0},{"s":"m","x":535.5,"y":15.6},{"s":"m","x":534.4,"y":16.7},{"s":"m","x":533.8,"y":19.0},{"s":"m","x":533.5,"y":20.2},{"s":"m","x":533.2,"y":20.6},{"s":"m","x":532.95,"y":19.8},{"s":"m","x":532.7,"y":18.6},{"s":"m","x":532.3,"y":16.8},{"s":"m","x":531.9,"y":15.1},{"s":"m","x":531.0,"y":14.2},{"s":"m","x":529.9,"y":13.7},{"s":"m","x":528.0,"y":13.4},{"s":"m","x":526.55,"y":13.3}
],
"h":[
{"s":"e","x":537.3,"y":14.5},{"s":"e","x":537.0,"y":13.2},{"s":"e","x":536.7,"y":15.0},{"s":"e","x":536.4,"y":13.8},{"s":"e","x":536.1,"y":15.8},{"s":"e","x":535.8,"y":14.5},{"s":"e","x":535.5,"y":16.8},{"s":"e","x":535.2,"y":16.0},{"s":"e","x":534.9,"y":18.5},{"s":"e","x":534.6,"y":18.0},{"s":"e","x":534.3,"y":21.0},{"s":"e","x":534.0,"y":22.5},{"s":"e","x":533.75,"y":26.5},{"s":"e","x":533.5,"y":30.0},{"s":"e","x":533.25,"y":31.5},{"s":"e","x":533.0,"y":32.8},{"s":"e","x":532.75,"y":31.5},{"s":"e","x":532.5,"y":33.5},{"s":"e","x":532.3,"y":37.0},{"s":"e","x":532.1,"y":40.5},{"s":"e","x":531.9,"y":47.0},{"s":"e","x":531.7,"y":58.0},{"s":"e","x":531.55,"y":67.0},{"s":"e","x":531.4,"y":78.0},{"s":"e","x":531.25,"y":85.0},{"s":"e","x":531.1,"y":88.4},{"s":"e","x":530.95,"y":84.5},{"s":"e","x":530.8,"y":76.0},{"s":"e","x":530.65,"y":66.0},{"s":"e","x":530.5,"y":56.0},{"s":"e","x":530.35,"y":47.0},{"s":"e","x":530.15,"y":42.0},{"s":"e","x":529.95,"y":39.0},{"s":"e","x":529.75,"y":39.5},{"s":"e","x":529.55,"y":38.5},{"s":"e","x":529.35,"y":37.0},{"s":"e","x":529.1,"y":34.0},{"s":"e","x":528.85,"y":30.0},{"s":"e","x":528.6,"y":25.5},{"s":"e","x":528.35,"y":21.0},{"s":"e","x":528.1,"y":17.5},{"s":"e","x":527.85,"y":15.0},{"s":"e","x":527.6,"y":13.5},{"s":"e","x":527.3,"y":12.5},
{"s":"f","x":537.3,"y":14.0},{"s":"f","x":536.6,"y":14.4},{"s":"f","x":535.9,"y":15.1},{"s":"f","x":535.4,"y":16.2},{"s":"f","x":534.95,"y":17.5},{"s":"f","x":534.5,"y":19.0},{"s":"f","x":534.1,"y":21.1},{"s":"f","x":533.8,"y":25.0},{"s":"f","x":533.5,"y":29.1},{"s":"f","x":533.0,"y":30.7},{"s":"f","x":532.5,"y":32.1},{"s":"f","x":532.25,"y":36.5},{"s":"f","x":532.0,"y":43.2},{"s":"f","x":531.8,"y":52.0},{"s":"f","x":531.6,"y":63.3},{"s":"f","x":531.5,"y":71.0},{"s":"f","x":531.4,"y":79.3},{"s":"f","x":531.25,"y":84.5},{"s":"f","x":531.1,"y":86.3},{"s":"f","x":530.95,"y":83.0},{"s":"f","x":530.85,"y":79.0},{"s":"f","x":530.75,"y":72.0},{"s":"f","x":530.6,"y":63.3},{"s":"f","x":530.45,"y":53.0},{"s":"f","x":530.3,"y":45.2},{"s":"f","x":530.1,"y":40.5},{"s":"f","x":529.9,"y":38.1},{"s":"f","x":529.7,"y":37.8},{"s":"f","x":529.5,"y":37.5},{"s":"f","x":529.2,"y":35.1},{"s":"f","x":528.95,"y":31.5},{"s":"f","x":528.7,"y":27.1},{"s":"f","x":528.45,"y":23.0},{"s":"f","x":528.2,"y":19.1},{"s":"f","x":527.95,"y":16.2},{"s":"f","x":527.7,"y":14.0},{"s":"f","x":527.3,"y":12.7},
{"s":"c","x":537.3,"y":14.0},{"s":"c","x":535.0,"y":14.5},{"s":"c","x":533.5,"y":15.1},{"s":"c","x":532.9,"y":16.5},{"s":"c","x":532.5,"y":19.1},{"s":"c","x":532.25,"y":25.0},{"s":"c","x":532.0,"y":35.1},{"s":"c","x":531.8,"y":47.0},{"s":"c","x":531.6,"y":59.2},{"s":"c","x":531.45,"y":70.0},{"s":"c","x":531.3,"y":79.3},{"s":"c","x":531.2,"y":82.5},{"s":"c","x":531.1,"y":84.3},{"s":"c","x":531.0,"y":82.5},{"s":"c","x":530.85,"y":79.3},{"s":"c","x":530.7,"y":70.0},{"s":"c","x":530.5,"y":59.2},{"s":"c","x":530.3,"y":47.0},{"s":"c","x":530.15,"y":39.2},{"s":"c","x":529.9,"y":30.0},{"s":"c","x":529.65,"y":23.1},{"s":"c","x":529.3,"y":18.0},{"s":"c","x":529.0,"y":15.1},{"s":"c","x":528.5,"y":13.5},{"s":"c","x":528.05,"y":12.7},{"s":"c","x":527.3,"y":12.0},
{"s":"b","x":537.3,"y":14.0},{"s":"b","x":535.5,"y":13.8},{"s":"b","x":533.5,"y":13.4},{"s":"b","x":531.5,"y":13.1},{"s":"b","x":530.9,"y":13.1},{"s":"b","x":530.7,"y":15.0},{"s":"b","x":530.5,"y":18.1},{"s":"b","x":530.25,"y":24.0},{"s":"b","x":530.0,"y":29.1},{"s":"b","x":529.8,"y":32.0},{"s":"b","x":529.65,"y":33.1},{"s":"b","x":529.45,"y":32.5},{"s":"b","x":529.3,"y":31.1},{"s":"b","x":529.05,"y":27.5},{"s":"b","x":528.8,"y":23.1},{"s":"b","x":528.55,"y":19.0},{"s":"b","x":528.3,"y":16.1},{"s":"b","x":528.0,"y":14.0},{"s":"b","x":527.7,"y":13.1},{"s":"b","x":527.3,"y":12.0},
{"s":"m","x":537.3,"y":14.0},{"s":"m","x":536.2,"y":14.6},{"s":"m","x":535.2,"y":15.5},{"s":"m","x":534.7,"y":17.0},{"s":"m","x":534.2,"y":19.1},{"s":"m","x":533.9,"y":22.0},{"s":"m","x":533.6,"y":25.1},{"s":"m","x":533.35,"y":26.5},{"s":"m","x":533.1,"y":27.1},{"s":"m","x":532.85,"y":26.0},{"s":"m","x":532.6,"y":23.1},{"s":"m","x":532.3,"y":20.0},{"s":"m","x":532.0,"y":17.1},{"s":"m","x":531.5,"y":14.8},{"s":"m","x":531.0,"y":13.4},{"s":"m","x":530.2,"y":12.5},{"s":"m","x":529.5,"y":12.0},{"s":"m","x":527.3,"y":11.4}
],
"lab":[
{"p":"a","k":"P","x":468.9,"y":89.0,"t":"(a)"},{"p":"a","k":"T","x":457.4,"y":84.2,"t":"Ti 2p","u":"3/2"},{"p":"a","k":"T","x":468.8,"y":41.5,"t":"Ti 2p","u":"1/2"},
{"p":"b","k":"P","x":468.8,"y":88.3,"t":"(b)"},{"p":"b","k":"T","x":459.2,"y":88.5,"t":"Ti 2p","u":"3/2"},{"p":"b","k":"T","x":468.5,"y":45.7,"t":"Ti 2p","u":"1/2"},
{"p":"c","k":"P","x":468.85,"y":83.2,"t":"(c)"},{"p":"c","k":"T","x":461.7,"y":84.8,"t":"Ti 2p","u":"3/2"},{"p":"c","k":"T","x":468.5,"y":46.6,"t":"Ti 2p","u":"1/2"},
{"p":"d","k":"P","x":469.0,"y":85.5,"t":"(d)"},{"p":"d","k":"T","x":459.4,"y":87.3,"t":"Ti 2p","u":"3/2"},{"p":"d","k":"T","x":468.3,"y":43.8,"t":"Ti 2p","u":"1/2"},
{"p":"e","k":"O","x":534.4,"y":78.9,"t":"O","u":"1"},{"p":"e","k":"O","x":535.2,"y":44.0,"t":"O","u":"2"},{"p":"e","k":"O","x":536.4,"y":32.3,"t":"O","u":"3"},
{"p":"f","k":"P","x":540.0,"y":67.9,"t":"(f)"},
{"p":"g","k":"P","x":540.8,"y":63.5,"t":"(g)"},{"p":"g","k":"O","x":536.2,"y":25.5,"t":"O","u":"2"},{"p":"g","k":"O","x":538.05,"y":11.8,"t":"O","u":"3"},
{"p":"g","k":"H","x":531.7,"y":53.9,"a":120},{"p":"g","k":"H","x":532.7,"y":14.7,"a":118},{"p":"g","k":"H","x":534.2,"y":1.9,"a":115},
{"p":"h","k":"P","x":540.4,"y":69.7,"t":"(h)"},{"p":"h","k":"O","x":535.3,"y":58.2,"t":"O","u":"2"},{"p":"h","k":"O","x":536.9,"y":25.1,"t":"O","u":"3"},{"p":"h","k":"O","x":527.3,"y":38.1,"t":"O","u":"1"},
{"p":"h","k":"H","x":531.75,"y":47.6,"a":116},{"p":"h","k":"H","x":533.5,"y":20.1,"a":118},{"p":"h","k":"H","x":529.0,"y":24.1,"a":231}
],
"arr":[
{"p":"e","x":533.0,"y":75.1,"x2":530.9,"y2":66.0},{"p":"e","x":533.9,"y":39.9,"x2":532.3,"y2":31.9},{"p":"e","x":534.9,"y":28.9,"x2":532.9,"y2":20.9},
{"p":"g","x":533.8,"y":63.7,"x2":531.7,"y2":53.9},{"p":"g","x":534.55,"y":22.5,"x2":532.7,"y2":14.7},{"p":"g","x":536.3,"y":9.8,"x2":534.2,"y2":1.9},
{"p":"h","x":533.9,"y":56.2,"x2":531.75,"y2":47.6},{"p":"h","x":535.6,"y":29.1,"x2":533.5,"y2":20.1},{"p":"h","x":527.4,"y":35.1,"x2":529.0,"y2":24.1}
]
},
"vconcat":[
{"hconcat":[
{"width":228,"height":241,"data":{"name":"a"},
"encoding":{"x":{"field":"x","type":"quantitative","scale":{"domain":[448.5,470.4],"reverse":true,"nice":false,"zero":false},"axis":{"values":[470,465,460,455,450],"title":"Binding Energy (eV)","labelPadding":7,"titlePadding":8}},
"y":{"field":"y","type":"quantitative","scale":{"domain":[0,100],"nice":false},"axis":{"title":"Intensity (arb. units)","titleFontSize":17,"titlePadding":4,"titleY":146}}},
"layer":[
{"transform":[{"filter":"datum.s=='e'"}],"mark":{"type":"line","color":"#111111","strokeWidth":1.8}},
{"transform":[{"filter":"indexof(['b','m','c','k','g'],datum.s)>=0"}],"mark":{"type":"line","strokeWidth":2.2,"interpolate":"monotone"},"encoding":{"color":{"field":"s","type":"nominal","scale":{"domain":["b","m","c","k","g"],"range":["#1414ff","#ff10ff","#10e8ee","#3ebdd6","#22e022"]},"legend":null}}},
{"transform":[{"filter":"datum.s=='d'"}],"mark":{"type":"square","color":"#ff2020","size":8,"opacity":1}},
{"data":{"name":"lab"},"transform":[{"filter":"datum.p=='a'&&datum.k=='P'"}],"mark":{"type":"text","align":"left","baseline":"middle","fontSize":22,"fontWeight":"bold","color":"black"},"encoding":{"text":{"field":"t"}}},
{"data":{"name":"lab"},"transform":[{"filter":"datum.p=='a'&&datum.k=='T'"}],"mark":{"type":"text","align":"left","baseline":"alphabetic","fontSize":17,"fontWeight":"bold","color":"black"},"encoding":{"text":{"field":"t"}}},
{"data":{"name":"lab"},"transform":[{"filter":"datum.p=='a'&&datum.k=='T'"}],"mark":{"type":"text","align":"left","baseline":"alphabetic","fontSize":15,"fontWeight":"bold","color":"black","dx":40,"dy":3},"encoding":{"text":{"field":"u"}}}
]},
{"width":221,"height":234,"data":{"name":"b"},
"encoding":{"x":{"field":"x","type":"quantitative","scale":{"domain":[448.2,470.3],"reverse":true,"nice":false,"zero":false},"axis":{"values":[470,465,460,455,450],"title":"Binding Energy (eV)","labelPadding":4,"titlePadding":13}},
"y":{"field":"y","type":"quantitative","scale":{"domain":[0,100],"nice":false},"axis":{"title":"Intensity (arb. units)","titleFontSize":15,"titlePadding":4}}},
"layer":[
{"transform":[{"filter":"datum.s=='e'"}],"mark":{"type":"line","color":"#111111","strokeWidth":1.8}},
{"transform":[{"filter":"datum.s=='f'"}],"mark":{"type":"line","color":"#ff1010","strokeWidth":2.6,"interpolate":"monotone"}},
{"transform":[{"filter":"indexof(['b','m','c','k','g'],datum.s)>=0"}],"mark":{"type":"line","strokeWidth":2.2,"interpolate":"monotone"},"encoding":{"color":{"field":"s","type":"nominal","scale":{"domain":["b","m","c","k","g"],"range":["#1414ff","#ff10ff","#10e8ee","#3ebdd6","#22e022"]},"legend":null}}},
{"transform":[{"filter":"datum.s=='d'"}],"mark":{"type":"square","color":"#ff2020","size":8,"opacity":1}},
{"data":{"name":"lab"},"transform":[{"filter":"datum.p=='b'&&datum.k=='P'"}],"mark":{"type":"text","align":"left","baseline":"middle","fontSize":22,"fontWeight":"bold","color":"black"},"encoding":{"text":{"field":"t"}}},
{"data":{"name":"lab"},"transform":[{"filter":"datum.p=='b'&&datum.k=='T'"}],"mark":{"type":"text","align":"left","baseline":"alphabetic","fontSize":17,"fontWeight":"bold","color":"black"},"encoding":{"text":{"field":"t"}}},
{"data":{"name":"lab"},"transform":[{"filter":"datum.p=='b'&&datum.k=='T'"}],"mark":{"type":"text","align":"left","baseline":"alphabetic","fontSize":15,"fontWeight":"bold","color":"black","dx":40,"dy":3},"encoding":{"text":{"field":"u"}}}
]}
],"spacing":39,"resolve":{"scale":{"x":"independent","y":"independent"}}},
{"hconcat":[
{"width":234,"height":244,"data":{"name":"c"},
"encoding":{"x":{"field":"x","type":"quantitative","scale":{"domain":[448.1,470.5],"reverse":true,"nice":false,"zero":false},"axis":{"values":[470,465,460,455,450],"title":"Binding Energy (eV)","labelPadding":4,"titlePadding":5}},
"y":{"field":"y","type":"quantitative","scale":{"domain":[0,100],"nice":false},"axis":{"title":"Intensity (arb. units)","titleFontSize":16,"titlePadding":3}}},
"layer":[
{"transform":[{"filter":"datum.s=='e'"}],"mark":{"type":"line","color":"#111111","strokeWidth":1.8}},
{"transform":[{"filter":"datum.s=='f'"}],"mark":{"type":"line","color":"#ff1010","strokeWidth":2.6,"interpolate":"monotone"}},
{"transform":[{"filter":"indexof(['b','m','c','k','g'],datum.s)>=0"}],"mark":{"type":"line","strokeWidth":2.2,"interpolate":"monotone"},"encoding":{"color":{"field":"s","type":"nominal","scale":{"domain":["b","m","c","k","g"],"range":["#1414ff","#ff10ff","#10e8ee","#3ebdd6","#22e022"]},"legend":null}}},
{"transform":[{"filter":"datum.s=='d'"}],"mark":{"type":"square","color":"#ff2020","size":8,"opacity":1}},
{"data":{"name":"lab"},"transform":[{"filter":"datum.p=='c'&&datum.k=='P'"}],"mark":{"type":"text","align":"left","baseline":"middle","fontSize":22,"fontWeight":"bold","color":"black"},"encoding":{"text":{"field":"t"}}},
{"data":{"name":"lab"},"transform":[{"filter":"datum.p=='c'&&datum.k=='T'"}],"mark":{"type":"text","align":"left","baseline":"alphabetic","fontSize":17,"fontWeight":"bold","color":"black"},"encoding":{"text":{"field":"t"}}},
{"data":{"name":"lab"},"transform":[{"filter":"datum.p=='c'&&datum.k=='T'"}],"mark":{"type":"text","align":"left","baseline":"alphabetic","fontSize":15,"fontWeight":"bold","color":"black","dx":40,"dy":3},"encoding":{"text":{"field":"u"}}}
]},
{"width":224,"height":238,"data":{"name":"d"},
"encoding":{"x":{"field":"x","type":"quantitative","scale":{"domain":[448.1,470.3],"reverse":true,"nice":false,"zero":false},"axis":{"values":[470,465,460,455,450],"title":"Binding Energy (eV)","labelPadding":6,"titlePadding":7}},
"y":{"field":"y","type":"quantitative","scale":{"domain":[0,100],"nice":false},"axis":{"title":"Intensity (arb. units)","titleFontSize":15,"titlePadding":3}}},
"layer":[
{"transform":[{"filter":"datum.s=='e'"}],"mark":{"type":"line","color":"#111111","strokeWidth":1.8}},
{"transform":[{"filter":"datum.s=='f'"}],"mark":{"type":"line","color":"#ff1010","strokeWidth":2.6,"interpolate":"monotone"}},
{"transform":[{"filter":"indexof(['b','m','c','k','g'],datum.s)>=0"}],"mark":{"type":"line","strokeWidth":2.2,"interpolate":"monotone"},"encoding":{"color":{"field":"s","type":"nominal","scale":{"domain":["b","m","c","k","g"],"range":["#1414ff","#ff10ff","#10e8ee","#3ebdd6","#22e022"]},"legend":null}}},
{"transform":[{"filter":"datum.s=='d'"}],"mark":{"type":"square","color":"#ff2020","size":8,"opacity":1}},
{"transform":[{"filter":"datum.s=='h'"}],"mark":{"type":"square","color":"#e6d2d2","size":8,"opacity":1}},
{"data":{"name":"lab"},"transform":[{"filter":"datum.p=='d'&&datum.k=='P'"}],"mark":{"type":"text","align":"left","baseline":"middle","fontSize":22,"fontWeight":"bold","color":"black"},"encoding":{"text":{"field":"t"}}},
{"data":{"name":"lab"},"transform":[{"filter":"datum.p=='d'&&datum.k=='T'"}],"mark":{"type":"text","align":"left","baseline":"alphabetic","fontSize":17,"fontWeight":"bold","color":"black"},"encoding":{"text":{"field":"t"}}},
{"data":{"name":"lab"},"transform":[{"filter":"datum.p=='d'&&datum.k=='T'"}],"mark":{"type":"text","align":"left","baseline":"alphabetic","fontSize":15,"fontWeight":"bold","color":"black","dx":40,"dy":3},"encoding":{"text":{"field":"u"}}}
]}
],"spacing":35,"resolve":{"scale":{"x":"independent","y":"independent"}}},
{"hconcat":[
{"width":246,"height":166,"data":{"name":"e"},
"encoding":{"x":{"field":"x","type":"quantitative","scale":{"domain":[522.5,541.3],"reverse":true,"nice":false,"zero":false},"axis":{"values":[540,538,536,534,532,530,528,526,524],"title":"Binding Energy (eV)","labelPadding":6,"titlePadding":8}},
"y":{"field":"y","type":"quantitative","scale":{"domain":[0,100],"nice":false},"axis":{"title":"Intensity (arb. units)","titleFontSize":15,"titlePadding":1}}},
"layer":[
{"transform":[{"filter":"datum.s=='e'"}],"mark":{"type":"line","color":"#111111","strokeWidth":1.8}},
{"transform":[{"filter":"datum.s=='f'"}],"mark":{"type":"line","color":"#ff1010","strokeWidth":2.6,"interpolate":"monotone"}},
{"transform":[{"filter":"indexof(['b','m','c','k','g'],datum.s)>=0"}],"mark":{"type":"line","strokeWidth":2.2,"interpolate":"monotone"},"encoding":{"color":{"field":"s","type":"nominal","scale":{"domain":["b","m","c","k","g"],"range":["#1414ff","#ff10ff","#10e8ee","#3ebdd6","#22e022"]},"legend":null}}},
{"transform":[{"filter":"datum.s=='d'"}],"mark":{"type":"square","color":"#ff2020","size":8,"opacity":1}},
{"data":{"name":"arr"},"transform":[{"filter":"datum.p=='e'"}],"mark":{"type":"rule","color":"black","strokeWidth":1.2},"encoding":{"x2":{"field":"x2"},"y2":{"field":"y2"}}},
{"data":{"name":"lab"},"transform":[{"filter":"datum.p=='e'&&datum.k=='O'"}],"mark":{"type":"text","align":"left","baseline":"middle","fontSize":15,"fontWeight":"bold","color":"black"},"encoding":{"text":{"field":"t"}}},
{"data":{"name":"lab"},"transform":[{"filter":"datum.p=='e'&&datum.k=='O'"}],"mark":{"type":"text","align":"left","baseline":"middle","fontSize":11,"fontWeight":"bold","color":"black","dx":12,"dy":5},"encoding":{"text":{"field":"u"}}}
]},
{"width":245,"height":168,"data":{"name":"f"},
"encoding":{"x":{"field":"x","type":"quantitative","scale":{"domain":[522.4,541.1],"reverse":true,"nice":false,"zero":false},"axis":{"values":[540,538,536,534,532,530,528,526,524],"title":"Binding Energy (eV)","labelPadding":4,"titlePadding":1}},
"y":{"field":"y","type":"quantitative","scale":{"domain":[0,100],"nice":false},"axis":{"title":"Intensity arb. units)","titleFontSize":15,"titlePadding":2}}},
"layer":[
{"transform":[{"filter":"datum.s=='e'"}],"mark":{"type":"line","color":"#111111","strokeWidth":1.8}},
{"transform":[{"filter":"datum.s=='f'"}],"mark":{"type":"line","color":"#ff1010","strokeWidth":2.6,"interpolate":"monotone"}},
{"transform":[{"filter":"indexof(['b','m','c','k','g'],datum.s)>=0"}],"mark":{"type":"line","strokeWidth":2.2,"interpolate":"monotone"},"encoding":{"color":{"field":"s","type":"nominal","scale":{"domain":["b","m","c","k","g"],"range":["#1414ff","#ff10ff","#10e8ee","#3ebdd6","#22e022"]},"legend":null}}},
{"transform":[{"filter":"datum.s=='d'"}],"mark":{"type":"square","color":"#ff2020","size":8,"opacity":1}},
{"data":{"name":"lab"},"transform":[{"filter":"datum.p=='f'&&datum.k=='P'"}],"mark":{"type":"text","align":"left","baseline":"middle","fontSize":22,"fontWeight":"bold","color":"black"},"encoding":{"text":{"field":"t"}}}
]}
],"spacing":25,"resolve":{"scale":{"x":"independent","y":"independent"}}},
{"hconcat":[
{"width":244,"height":170,"data":{"name":"g"},
"encoding":{"x":{"field":"x","type":"quantitative","scale":{"domain":[522.9,541.2],"reverse":true,"nice":false,"zero":false},"axis":{"values":[540,538,536,534,532,530,528,526,524],"title":"Binding Energy (eV)","labelPadding":6,"titlePadding":6}},
"y":{"field":"y","type":"quantitative","scale":{"domain":[0,100],"nice":false},"axis":{"title":"Intensity (arb. units)","titleFontSize":16,"titlePadding":0}}},
"layer":[
{"transform":[{"filter":"datum.s=='e'"}],"mark":{"type":"line","color":"#111111","strokeWidth":1.8}},
{"transform":[{"filter":"datum.s=='f'"}],"mark":{"type":"line","color":"#ff1010","strokeWidth":2.6,"interpolate":"monotone"}},
{"transform":[{"filter":"indexof(['b','m','c','k','g'],datum.s)>=0"}],"mark":{"type":"line","strokeWidth":2.2,"interpolate":"monotone"},"encoding":{"color":{"field":"s","type":"nominal","scale":{"domain":["b","m","c","k","g"],"range":["#1414ff","#ff10ff","#10e8ee","#3ebdd6","#22e022"]},"legend":null}}},
{"data":{"name":"arr"},"transform":[{"filter":"datum.p=='g'"}],"mark":{"type":"rule","color":"black","strokeWidth":1.2},"encoding":{"x2":{"field":"x2"},"y2":{"field":"y2"}}},
{"data":{"name":"lab"},"transform":[{"filter":"datum.p=='g'&&datum.k=='H'"}],"mark":{"type":"point","shape":"triangle-up","filled":true,"color":"black","size":60,"opacity":1},"encoding":{"angle":{"field":"a","type":"quantitative","scale":null}}},
{"data":{"name":"lab"},"transform":[{"filter":"datum.p=='g'&&datum.k=='P'"}],"mark":{"type":"text","align":"left","baseline":"middle","fontSize":22,"fontWeight":"bold","color":"black"},"encoding":{"text":{"field":"t"}}},
{"data":{"name":"lab"},"transform":[{"filter":"datum.p=='g'&&datum.k=='O'"}],"mark":{"type":"text","align":"left","baseline":"middle","fontSize":15,"fontWeight":"bold","color":"black"},"encoding":{"text":{"field":"t"}}},
{"data":{"name":"lab"},"transform":[{"filter":"datum.p=='g'&&datum.k=='O'"}],"mark":{"type":"text","align":"left","baseline":"middle","fontSize":11,"fontWeight":"bold","color":"black","dx":12,"dy":5},"encoding":{"text":{"field":"u"}}}
]},
{"width":250,"height":168,"data":{"name":"h"},
"encoding":{"x":{"field":"x","type":"quantitative","scale":{"domain":[522.8,541.3],"reverse":true,"nice":false,"zero":false},"axis":{"values":[540,538,536,534,532,530,528,526,524],"title":"Binding Energy (eV)","labelPadding":4,"titlePadding":10}},
"y":{"field":"y","type":"quantitative","scale":{"domain":[0,100],"nice":false},"axis":{"title":"Intensity (arb. units)","titleFontSize":16,"titlePadding":5}}},
"layer":[
{"transform":[{"filter":"datum.s=='e'"}],"mark":{"type":"line","color":"#111111","strokeWidth":1.8}},
{"transform":[{"filter":"datum.s=='f'"}],"mark":{"type":"line","color":"#ff1010","strokeWidth":2.6,"interpolate":"monotone"}},
{"transform":[{"filter":"indexof(['b','m','c','k','g'],datum.s)>=0"}],"mark":{"type":"line","strokeWidth":2.2,"interpolate":"monotone"},"encoding":{"color":{"field":"s","type":"nominal","scale":{"domain":["b","m","c","k","g"],"range":["#1414ff","#ff10ff","#10e8ee","#3ebdd6","#22e022"]},"legend":null}}},
{"data":{"name":"arr"},"transform":[{"filter":"datum.p=='h'"}],"mark":{"type":"rule","color":"black","strokeWidth":1.2},"encoding":{"x2":{"field":"x2"},"y2":{"field":"y2"}}},
{"data":{"name":"lab"},"transform":[{"filter":"datum.p=='h'&&datum.k=='H'"}],"mark":{"type":"point","shape":"triangle-up","filled":true,"color":"black","size":60,"opacity":1},"encoding":{"angle":{"field":"a","type":"quantitative","scale":null}}},
{"data":{"name":"lab"},"transform":[{"filter":"datum.p=='h'&&datum.k=='P'"}],"mark":{"type":"text","align":"left","baseline":"middle","fontSize":22,"fontWeight":"bold","color":"black"},"encoding":{"text":{"field":"t"}}},
{"data":{"name":"lab"},"transform":[{"filter":"datum.p=='h'&&datum.k=='O'"}],"mark":{"type":"text","align":"left","baseline":"middle","fontSize":15,"fontWeight":"bold","color":"black"},"encoding":{"text":{"field":"t"}}},
{"data":{"name":"lab"},"transform":[{"filter":"datum.p=='h'&&datum.k=='O'"}],"mark":{"type":"text","align":"left","baseline":"middle","fontSize":11,"fontWeight":"bold","color":"black","dx":12,"dy":5},"encoding":{"text":{"field":"u"}}}
]}
],"spacing":26,"resolve":{"scale":{"x":"independent","y":"independent"}}}
],
"spacing":3,
"resolve":{"scale":{"x":"independent","y":"independent"}}
}
